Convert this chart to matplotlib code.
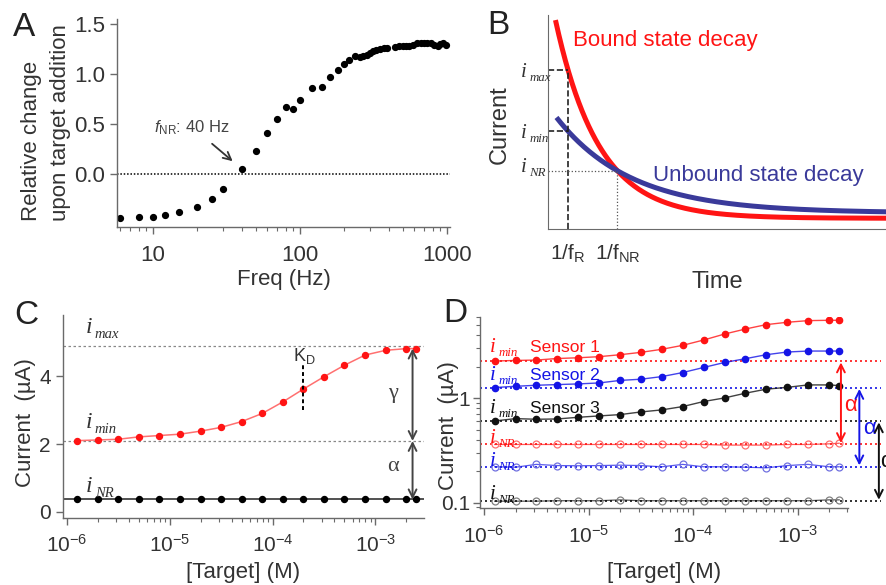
import numpy as np
import matplotlib
matplotlib.use("Agg")
import matplotlib.pyplot as plt
from matplotlib import ticker

plt.rcParams['font.family'] = ['Liberation Sans', 'DejaVu Sans']
plt.rcParams['mathtext.fontset'] = 'custom'
plt.rcParams['mathtext.rm'] = 'Liberation Sans'
plt.rcParams['mathtext.it'] = 'Liberation Sans:italic'
plt.rcParams['mathtext.sf'] = 'Liberation Sans'

TXT = '#333333'
SPINE = '#6a6a6a'
RED = '#ff1414'
BLUE = '#1414e6'
NAVY = '#3a3a9a'

# A: relative signal change vs square-wave frequency
freq = [6, 8, 10, 12, 15, 20, 25, 30, 40, 50, 60, 70, 80, 90, 100,
        120, 140, 160, 180, 200, 215, 235, 255, 270, 285, 300, 315, 330,
        350, 370, 390, 440, 470, 500, 525, 555, 585, 620, 660, 700, 735,
        775, 820, 865, 895, 945, 980]
rel_change = [-0.443, -0.43, -0.427, -0.41, -0.383, -0.33, -0.25, -0.153,
              0.05, 0.233, 0.407, 0.553, 0.673, 0.65, 0.737,
              0.857, 0.873, 0.967, 1.04, 1.097, 1.14, 1.18, 1.167, 1.18,
              1.19, 1.213, 1.23, 1.24, 1.25, 1.257, 1.263, 1.273, 1.28,
              1.28, 1.28, 1.283, 1.29, 1.307, 1.313, 1.313, 1.31, 1.307,
              1.29, 1.283, 1.297, 1.307, 1.29]
f_nr = 40

# B: schematic decays (amplitude, time constant, offset)
bound_amp, bound_tau, bound_off = 1.10, 1.28, 0.05
unbound_amp, unbound_tau, unbound_off = 0.50, 2.2, 0.075
t_r = 0.59

# C: single sensor titration
conc = [1.26e-6, 2e-6, 3.16e-6, 5e-6, 7.94e-6, 1.26e-5, 2e-5, 3.16e-5,
        5e-5, 7.94e-5, 1.26e-4, 2e-4, 3.16e-4, 5e-4, 7.94e-4, 1.26e-3,
        2e-3, 2.5e-3]
c_signal = [2.10, 2.12, 2.14, 2.21, 2.25, 2.29, 2.38, 2.49, 2.66, 2.90,
            3.24, 3.62, 3.98, 4.32, 4.62, 4.76, 4.81, 4.81]
c_nonresp = [0.37, 0.37, 0.37, 0.37, 0.37, 0.37, 0.37, 0.37, 0.37, 0.37,
             0.37, 0.37, 0.37, 0.37, 0.37, 0.37, 0.37, 0.37]
c_imax = 4.88
c_imin = 2.09
kd = 2e-4

# D: three sensors, signalling (filled) and non-responsive (open) frequencies
d_s1 = [2.27, 2.30, 2.32, 2.40, 2.44, 2.50, 2.61, 2.75, 2.94, 3.21, 3.61,
        4.12, 4.60, 5.07, 5.34, 5.54, 5.58, 5.58]
d_s2 = [1.265, 1.30, 1.33, 1.35, 1.37, 1.40, 1.48, 1.52, 1.61, 1.76, 1.97,
        2.20, 2.39, 2.61, 2.77, 2.83, 2.83, 2.83]
d_s3 = [0.605, 0.637, 0.628, 0.632, 0.656, 0.676, 0.696, 0.738, 0.772,
        0.831, 0.929, 1.006, 1.116, 1.22, 1.27, 1.34, 1.34, 1.32]
d_nr1 = [0.36, 0.36, 0.36, 0.36, 0.36, 0.36, 0.36, 0.36, 0.36, 0.36, 0.36,
         0.355, 0.355, 0.355, 0.36, 0.36, 0.365, 0.37]
d_nr2 = [0.22, 0.218, 0.232, 0.226, 0.225, 0.226, 0.228, 0.226, 0.22, 0.232,
         0.22, 0.22, 0.218, 0.215, 0.226, 0.232, 0.22, 0.22]
d_nr3 = [0.103, 0.103, 0.103, 0.104, 0.104, 0.104, 0.106, 0.104, 0.104,
         0.104, 0.104, 0.104, 0.104, 0.104, 0.104, 0.104, 0.106, 0.106]
sensor_names = ['Sensor 1', 'Sensor 2', 'Sensor 3']
sensor_colors = [RED, BLUE, '#111111']
sensor_nr_colors = ['#ff7070', '#7070e0', '#808080']


def style_axis(ax, size=15):
    for s in ['top', 'right']:
        ax.spines[s].set_visible(False)
    for s in ['left', 'bottom']:
        ax.spines[s].set_color(SPINE)
        ax.spines[s].set_linewidth(1.0)
    ax.tick_params(which='both', direction='out', color=SPINE, labelcolor=TXT,
                   labelsize=size)
    ax.tick_params(which='major', length=5, width=1)
    ax.tick_params(which='minor', length=3, width=0.8)


def panel_letter(fig, x, y, s):
    fig.text(x / 887, 1 - y / 585, s, fontsize=24, color='#222222',
             ha='center', va='center')


def i_label(ax, x, y, sub, color, size, trans):
    # italic serif "i" with a small subscript, y is the baseline
    ax.text(x, y, 'i', transform=trans, family='Liberation Serif',
            style='italic', fontsize=size, color=color, va='baseline',
            clip_on=False)
    ax.annotate(sub, xy=(x, y), xycoords=trans,
                xytext=(0.4 * size, -0.2 * size), textcoords='offset points',
                family='Liberation Serif', style='italic',
                fontsize=size * 0.62, color=color, va='baseline',
                annotation_clip=False)


fig = plt.figure(figsize=(8.87, 5.85), dpi=100)

# ---------------- A ----------------
axA = fig.add_axes([117 / 887, 1 - 227 / 585, 333 / 887, 208 / 585])
style_axis(axA, 16)
axA.plot(freq, rel_change, 'o', color='black', ms=4.2)
axA.axhline(0, color='black', ls=(0, (1, 1.2)), lw=1.1)
axA.set_xscale('log')
axA.set_xlim(5.69, 1047)
axA.set_ylim(-0.53, 1.55)
axA.set_xticks([10, 100, 1000])
axA.set_xticklabels(['10', '100', '1000'])
axA.xaxis.set_minor_locator(ticker.LogLocator(subs=np.arange(2, 10)))
axA.xaxis.set_minor_formatter(ticker.NullFormatter())
axA.set_yticks([0, 0.5, 1.0, 1.5])
axA.set_yticklabels(['0.0', '0.5', '1.0', '1.5'])
axA.tick_params(axis='x', pad=8)
axA.set_xlabel('Freq (Hz)', fontsize=16, color=TXT, labelpad=2)
for x_px, line in [(32, 'Relative change'), (61, 'upon target addition')]:
    fig.text(x_px / 887, 1 - 221 / 585, line, fontsize=16, color=TXT,
             rotation=90, ha='center', va='bottom')
axA.annotate('', xy=(36, 0.11), xytext=(24.4, 0.32),
             arrowprops=dict(arrowstyle='->', color='#333333', lw=1.3,
                             mutation_scale=14))
axA.text(18.4, 0.46, r'$f_{\mathregular{NR}}$: ' + f'{f_nr} Hz', fontsize=12,
         color='#444444', ha='center', va='center')
panel_letter(fig, 24, 27, 'A')

# ---------------- B ----------------
axB = fig.add_axes([548 / 887, 1 - 229 / 585, 339 / 887, 214 / 585])
for s in ['top', 'right']:
    axB.spines[s].set_visible(False)
for s in ['left', 'bottom']:
    axB.spines[s].set_color(SPINE)
axB.set_xlim(0, 10)
axB.set_ylim(0, 1)
t_red = np.linspace(0.22, 10, 300)
t_blue = np.linspace(0.25, 10, 300)
red_curve = bound_amp * np.exp(-t_red / bound_tau) + bound_off
blue_curve = unbound_amp * np.exp(-t_blue / unbound_tau) + unbound_off
axB.plot(t_red, red_curve, color=RED, lw=3.6, solid_capstyle='butt')
axB.plot(t_blue, blue_curve, color=NAVY, lw=3.6, solid_capstyle='butt')

i_max = bound_amp * np.exp(-t_r / bound_tau) + bound_off
i_min = unbound_amp * np.exp(-t_r / unbound_tau) + unbound_off
t_grid = np.linspace(0.5, 6, 2000)
diff = (bound_amp * np.exp(-t_grid / bound_tau) + bound_off) - \
       (unbound_amp * np.exp(-t_grid / unbound_tau) + unbound_off)
t_nr = t_grid[np.argmin(np.abs(diff))]
i_nr = unbound_amp * np.exp(-t_nr / unbound_tau) + unbound_off

axB.plot([0, t_r], [i_max, i_max], color='#222222', ls='--', lw=1.2)
axB.plot([0, t_r], [i_min, i_min], color='#222222', ls='--', lw=1.2)
axB.plot([t_r, t_r], [0, i_max], color='#222222', ls='--', lw=1.2)
axB.plot([0, t_nr], [i_nr, i_nr], color='#555555', ls=':', lw=0.9)
axB.plot([t_nr, t_nr], [0, i_nr], color='#555555', ls=':', lw=0.9)
axB.set_xticks([t_r, t_nr])
axB.set_xticklabels([r'1/f$_\mathregular{R}$', r'1/f$_\mathregular{NR}$'])
axB.set_yticks([])
axB.tick_params(length=0, labelsize=15, labelcolor=TXT, pad=10)
byt = axB.get_yaxis_transform()
for lvl, sub, dy in [(i_max, 'max', 0.033), (i_min, 'min', 0.033),
                     (i_nr, 'NR', 0.005)]:
    i_label(axB, -0.08, lvl - dy, sub, TXT, 15, byt)
axB.set_xlabel('Time', fontsize=17, color=TXT, labelpad=4)
axB.set_ylabel('Current', fontsize=17, color=TXT)
axB.yaxis.set_label_coords(-0.109, 0.486)
axB.text(0.75, 0.88, 'Bound state decay', color=RED, fontsize=16,
         va='center')
axB.text(3.1, 0.25, 'Unbound state decay', color=NAVY, fontsize=16,
         va='center')
panel_letter(fig, 498, 25, 'B')

# ---------------- C ----------------
axC = fig.add_axes([62.7 / 887, 1 - 517.7 / 585, 361.3 / 887, 202.7 / 585])
style_axis(axC)
axC.set_xscale('log')
axC.set_xlim(10 ** -6.04, 10 ** -2.527)
axC.set_ylim(-0.17, 5.8)
axC.axhline(c_imax, color='#888888', ls=(0, (2, 2)), lw=0.9)
axC.axhline(c_imin, color='#888888', ls=(0, (2, 2)), lw=0.9)
axC.axhline(np.mean(c_nonresp), color='#333333', lw=1.2)
axC.plot(conc, c_signal, '-', color='#ff7070', lw=1.1)
axC.plot(conc, c_signal, 'o', color=RED, ms=4.3)
axC.plot(conc, c_nonresp, 'o', color='black', ms=4.3)
axC.plot([kd, kd], [3.0, 4.37], color='black', ls=(0, (2, 1.5)), lw=1.4)
axC.text(kd * 1.02, 4.6, r'K$_\mathregular{D}$', fontsize=13, color=TXT,
         ha='center', va='center')
x_arr = 2.3e-3
axC.annotate('', xy=(x_arr, c_imin), xytext=(x_arr, c_signal[-1]),
             arrowprops=dict(arrowstyle='<->', color='#444444', lw=1.4,
                             mutation_scale=14, shrinkA=0, shrinkB=0))
axC.annotate('', xy=(x_arr, np.mean(c_nonresp)), xytext=(x_arr, c_imin),
             arrowprops=dict(arrowstyle='<->', color='#444444', lw=1.4,
                             mutation_scale=14, shrinkA=0, shrinkB=0))
axC.text(1.48e-3, 3.49, '\u03b3', fontsize=16, color='#444444',
         family='Liberation Serif', ha='center', va='center')
axC.text(1.48e-3, 1.33, '\u03b1', fontsize=16, color='#444444',
         family='Liberation Serif', ha='center', va='center')
for sub, yv in [('max', 5.26), ('min', 2.47), ('NR', 0.59)]:
    i_label(axC, 1.51e-6, yv, sub, TXT, 17, axC.transData)
axC.set_yticks([0, 2, 4])
axC.xaxis.set_minor_locator(ticker.LogLocator(subs=np.arange(2, 10)))
axC.xaxis.set_minor_formatter(ticker.NullFormatter())
axC.tick_params(axis='x', pad=7)
axC.set_xlabel('[Target] (M)', fontsize=16, color=TXT, labelpad=4)
axC.set_ylabel('Current  (\u00b5A)', fontsize=16, color=TXT)
axC.yaxis.set_label_coords(-0.074, 0.467)
panel_letter(fig, 26, 315, 'C')

# ---------------- D ----------------
axD = fig.add_axes([480 / 887, 1 - 508.3 / 585, 368.3 / 887, 191.3 / 585])
style_axis(axD)
axD.set_xscale('log')
axD.set_yscale('log')
axD.set_xlim(10 ** -6.04, 10 ** -2.515)
axD.set_ylim(0.088, 6.0)
ytr = axD.get_yaxis_transform()
signals = [d_s1, d_s2, d_s3]
nonresp = [d_nr1, d_nr2, d_nr3]
for sig, nr, col, ncol in zip(signals, nonresp, sensor_colors,
                              sensor_nr_colors):
    axD.plot([0, 1.09], [sig[0], sig[0]], transform=ytr, clip_on=False,
             color=col, ls=(0, (1.2, 1.8)), lw=1.2)
    axD.plot([0, 1.09], [nr[0], nr[0]], transform=ytr, clip_on=False,
             color=col, ls=(0, (1.2, 1.8)), lw=1.2)
    axD.plot(conc, sig, '-', color=col, lw=1.0, alpha=0.8)
    axD.plot(conc, sig, 'o', color=col, ms=4.5)
    axD.plot(conc, nr, '-', color=col, lw=0.9, alpha=0.7)
    axD.plot(conc, nr, 'o', mfc='none', mec=ncol, mew=0.9, ms=5)

label_base = [(2.79, 0.374), (1.50, 0.225), (0.727, 0.109)]
for (ymin_lab, ynr_lab), name, col in zip(label_base, sensor_names,
                                          sensor_colors):
    i_label(axD, 1.135e-6, ymin_lab, 'min', col, 15, axD.transData)
    i_label(axD, 1.135e-6, ynr_lab, 'NR', col, 15, axD.transData)
    axD.text(2.74e-6, ymin_lab * 1.1, name, color=col, fontsize=12.5,
             va='center')

arrow_x = [0.98, 1.03, 1.083]
alpha_pos = [(0.99, 0.86), (1.04, 0.515), (1.087, 0.246)]
for sig, nr, col, ax_x, (lx, ly) in zip(signals, nonresp, sensor_colors,
                                         arrow_x, alpha_pos):
    axD.annotate('', xy=(ax_x, nr[0]), xytext=(ax_x, sig[0]),
                 xycoords=('axes fraction', 'data'),
                 textcoords=('axes fraction', 'data'), annotation_clip=False,
                 arrowprops=dict(arrowstyle='<->', color=col, lw=1.4,
                                 mutation_scale=14, shrinkA=1, shrinkB=1))
    axD.text(lx, ly, '\u03b1', transform=ytr, color=col, fontsize=16,
             va='center', ha='left', clip_on=False)

axD.yaxis.set_major_locator(ticker.FixedLocator([0.1, 1]))
axD.yaxis.set_major_formatter(ticker.FixedFormatter(['0.1', '1']))
axD.yaxis.set_minor_locator(ticker.LogLocator(subs=np.arange(2, 10)))
axD.yaxis.set_minor_formatter(ticker.NullFormatter())
axD.xaxis.set_minor_locator(ticker.LogLocator(subs=np.arange(2, 10)))
axD.xaxis.set_minor_formatter(ticker.NullFormatter())
axD.tick_params(axis='x', pad=7)
axD.tick_params(axis='y', pad=2)
axD.set_xlabel('[Target] (M)', fontsize=16, color=TXT, labelpad=11)
axD.set_ylabel('Current  (\u00b5A)', fontsize=16, color=TXT)
axD.yaxis.set_label_coords(-0.058, 0.433)
panel_letter(fig, 455, 313, 'D')

fig.savefig('out.png', dpi=100)
